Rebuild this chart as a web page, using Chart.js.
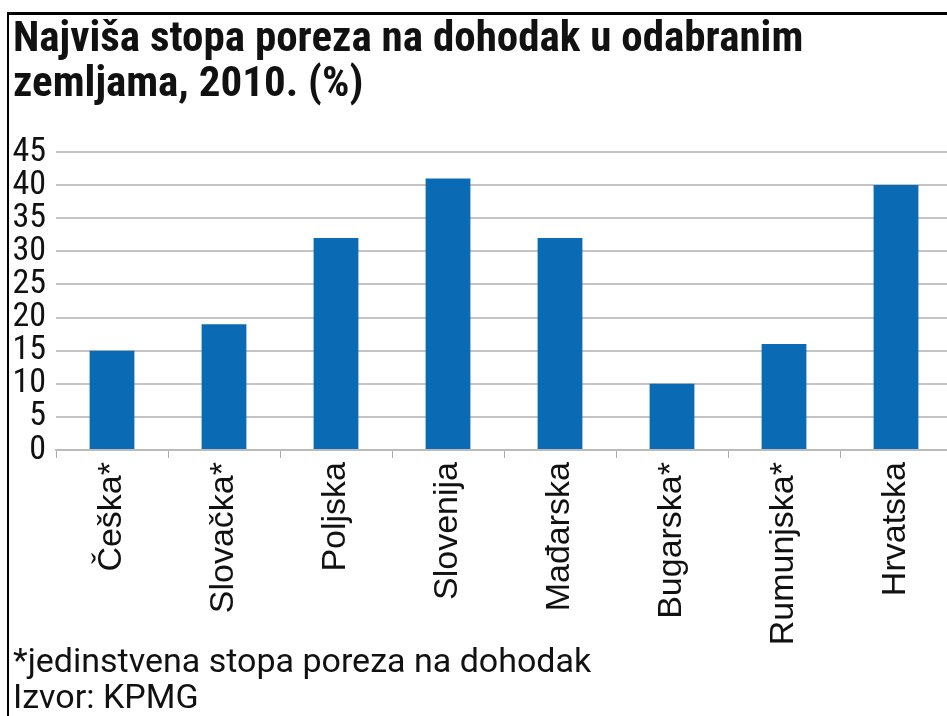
<!DOCTYPE html>
<html>
<head>
<meta charset="utf-8">
<script src="https://cdn.jsdelivr.net/npm/chart.js@4/dist/chart.umd.min.js"></script>
<style>
  html, body { margin: 0; padding: 0; background: #fff; overflow: hidden; width: 947px; height: 716px; }
  #wrap { position: absolute; left: 0; top: 0; width: 952px; height: 716px; }
  #frame { position: absolute; left: 7px; top: 12px; width: 1000px; height: 800px;
           border-left: 2px solid #000; border-top: 3px solid #000; box-sizing: border-box; pointer-events: none; }
  #footer { position: absolute; left: 13px; top: 642px; font-family: 'Roboto', sans-serif;
            font-size: 34px; line-height: 36px; color: #111; white-space: nowrap; }
</style>
</head>
<body>
<div id="wrap"><canvas id="c"></canvas></div>
<div id="frame"></div>
<div id="footer">*jedinstvena stopa poreza na dohodak<br>Izvor: KPMG</div>
<script>
const titleLines = ['Najviša stopa poreza na dohodak u odabranim', 'zemljama, 2010. (%)'];
const categories = ['Češka*', 'Slovačka*', 'Poljska', 'Slovenija', 'Mađarska', 'Bugarska*', 'Rumunjska*', 'Hrvatska'];
const values = [15, 19, 32, 41, 32, 10, 16, 40];
const yTicks = [0, 5, 10, 15, 20, 25, 30, 35, 40, 45];

const condensed = "'Roboto Condensed', 'DejaVu Sans Condensed', sans-serif";
const regular = "'Liberation Sans', Arial, sans-serif";

const chart = new Chart(document.getElementById('c'), {
  type: 'bar',
  data: {
    labels: categories,
    datasets: [{ data: values, backgroundColor: '#0a6ab4', borderWidth: 0,
                 barPercentage: 0.4, categoryPercentage: 1.0 }]
  },
  options: {
    responsive: true, maintainAspectRatio: false, animation: false,
    layout: { padding: { left: 13, top: 0, right: 0, bottom: 66 } },
    plugins: {
      legend: { display: false }, tooltip: { enabled: false },
      title: { display: true, text: titleLines, align: 'start', color: '#111',
               font: { family: condensed, size: 43, weight: 'bold', lineHeight: 1.05 },
               padding: { top: 18, bottom: 43.7 } }
    },
    scales: {
      x: {
        grid: { display: true, drawOnChartArea: false, offset: true, color: '#aaa', lineWidth: 1, tickLength: 8 },
        border: { display: true, color: '#bbb', width: 2 },
        ticks: { maxRotation: 90, minRotation: 90, autoSkip: false, padding: 4, color: '#111', font: { family: regular, size: 34 } },
        afterFit: s => { s.height = 200; }
      },
      y: {
        min: 0, max: 45,
        afterBuildTicks: s => { s.ticks = yTicks.map(v => ({ value: v })); },
        grid: { color: '#c4c4c4', lineWidth: 2, drawTicks: false },
        border: { display: false },
        ticks: { autoSkip: false, padding: 10, color: '#111', font: { family: condensed, size: 34 } },
        afterFit: s => { s.width = 43; }
      }
    }
  }
});
</script>
</body>
</html>
